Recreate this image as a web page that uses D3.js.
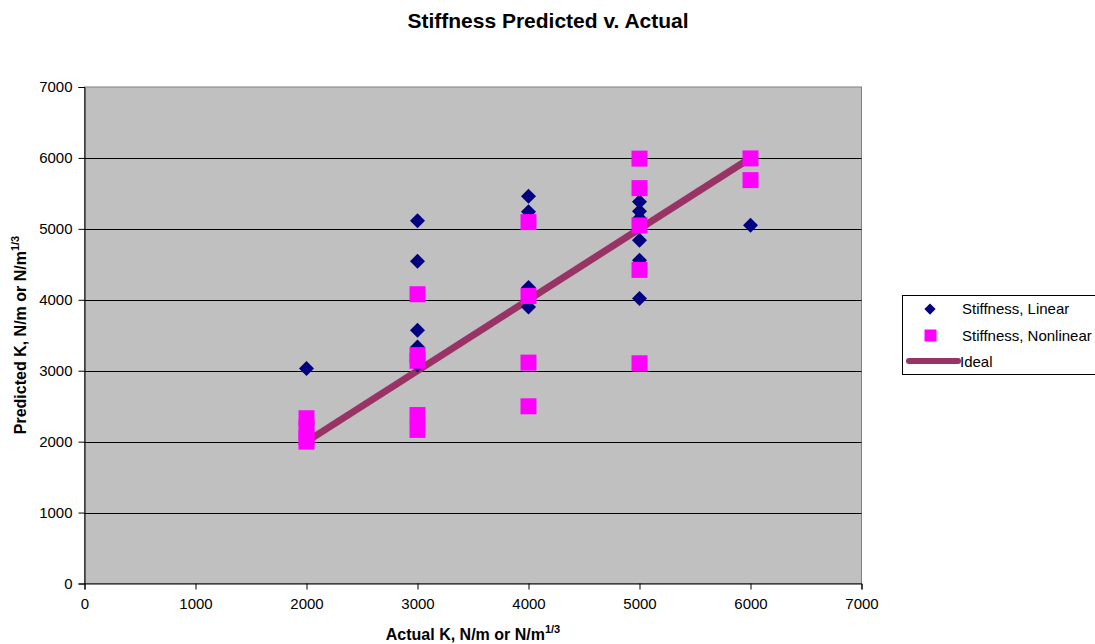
<!DOCTYPE html>
<html>
<head>
<meta charset="utf-8">
<script src="https://cdn.jsdelivr.net/npm/d3@7"></script>
<style>
  body { margin: 0; background: #fff; }
  text { font-family: "Liberation Sans", Arial, sans-serif; }
</style>
</head>
<body>
<div class="canvas"></div>
<script>
'use strict';
// values
var linearX = [2000, 3000, 3000, 3000, 3000, 3000, 4000, 4000, 4000, 4000, 5000, 5000, 5000, 5000, 5000, 5000, 6000];
var linearY = [3030, 5113, 4544, 3570, 3335, 3080, 5461, 5240, 4173, 3900, 5381, 5250, 5150, 4840, 4558, 4018, 5052];
var nonlinX = [2000, 2000, 2000, 2000, 3000, 3000, 3000, 3000, 3000, 4000, 4000, 4000, 4000, 5000, 5000, 5000, 5000, 5000, 6000, 6000];
var nonlinY = [2330, 2200, 2060, 2000, 4078, 3220, 3140, 2375, 2165, 5095, 4054, 3114, 2498, 5990, 5574, 5048, 4421, 3105, 5993, 5687];
var idealX = [2000, 6000];
var idealY = [2000, 6000];
var ticks = [0, 1000, 2000, 3000, 4000, 5000, 6000, 7000];
var seriesNames = ["Stiffness, Linear", "Stiffness, Nonlinear", "Ideal"];

var W = 1095, H = 644;
var L = 84.5, R = 861.5, T = 87, B = 583.5;

var svg = d3.select(".canvas").append("svg")
    .attr("width", W).attr("height", H);

var xScale = d3.scaleLinear().domain([0, 7000]).range([L, R]);
var yScale = d3.scaleLinear().domain([0, 7000]).range([B, T]);

// plot area
svg.append("rect")
    .attr("x", L).attr("y", T).attr("width", R - L).attr("height", B - T)
    .attr("fill", "#c0c0c0").attr("stroke", "#808080").attr("stroke-width", 1);

// gridlines
svg.append("g").selectAll("line").data(ticks.slice(1, -1)).enter().append("line")
    .attr("x1", L).attr("x2", R)
    .attr("y1", d => Math.round(yScale(d)) + 0.5).attr("y2", d => Math.round(yScale(d)) + 0.5)
    .attr("stroke", "#000").attr("stroke-width", 1);

// axes
var yAxis = d3.axisLeft(yScale).tickValues(ticks).tickFormat(d3.format("d")).tickSize(6).tickPadding(6);
var xAxis = d3.axisBottom(xScale).tickValues(ticks).tickFormat(d3.format("d")).tickSize(6).tickPadding(9);

var gy = svg.append("g").attr("transform", "translate(" + L + ",0)").call(yAxis);
var gx = svg.append("g").attr("transform", "translate(0," + B + ")").call(xAxis);
[gx, gy].forEach(g => {
    g.attr("font-size", null).attr("font-family", null);
    g.select(".domain").attr("stroke", "#000");
    g.selectAll(".tick line").attr("stroke", "#000");
    g.selectAll("text").style("font-size", "15px").attr("fill", "#000");
});

// ideal line
svg.append("line")
    .attr("x1", xScale(idealX[0])).attr("y1", yScale(idealY[0]))
    .attr("x2", xScale(idealX[1])).attr("y2", yScale(idealY[1]))
    .attr("stroke", "#993366").attr("stroke-width", 7);

// linear: diamonds
var diamond = "M0,-7.5L7.5,0L0,7.5L-7.5,0Z";
svg.append("g").selectAll("path").data(linearX).enter().append("path")
    .attr("d", diamond)
    .attr("transform", (d, i) => "translate(" + xScale(d) + "," + yScale(linearY[i]) + ")")
    .attr("fill", "#000080");

// nonlinear: squares
svg.append("g").selectAll("rect").data(nonlinX).enter().append("rect")
    .attr("x", d => xScale(d) - 8)
    .attr("y", (d, i) => yScale(nonlinY[i]) - 8)
    .attr("width", 16).attr("height", 16)
    .attr("fill", "#ff00ff");

// title
svg.append("text")
    .attr("x", 548).attr("y", 28)
    .attr("text-anchor", "middle")
    .style("font-size", "21px").attr("font-weight", "bold")
    .text("Stiffness Predicted v. Actual");

// x title
var xt = svg.append("text")
    .attr("x", 473).attr("y", 640)
    .attr("text-anchor", "middle")
    .style("font-size", "16px").attr("font-weight", "bold");
xt.append("tspan").text("Actual K, N/m or N/m");
xt.append("tspan").style("font-size", "11px").attr("dy", -7).text("1/3");

// y title
var yt = svg.append("text")
    .attr("transform", "translate(26,335) rotate(-90)")
    .attr("text-anchor", "middle")
    .style("font-size", "16px").attr("font-weight", "bold");
yt.append("tspan").text("Predicted K, N/m or N/m");
yt.append("tspan").style("font-size", "11px").attr("dy", -7).text("1/3");

// legend
var lg = svg.append("g");
lg.append("rect")
    .attr("x", 902.5).attr("y", 295.5).attr("width", 200).attr("height", 79)
    .attr("fill", "#fff").attr("stroke", "#000").attr("stroke-width", 1);
lg.append("path").attr("d", diamond)
    .attr("transform", "translate(930,309) scale(0.75)").attr("fill", "#000080");
lg.append("rect").attr("x", 924.5).attr("y", 329.5).attr("width", 12).attr("height", 12)
    .attr("fill", "#ff00ff");
lg.append("line").attr("x1", 909).attr("x2", 958).attr("y1", 361).attr("y2", 361)
    .attr("stroke", "#993366").attr("stroke-width", 6).attr("stroke-linecap", "round");
lg.selectAll("text").data(seriesNames).enter().append("text")
    .attr("x", (d, i) => i === 2 ? 960 : 962)
    .attr("y", (d, i) => 314 + i * 26.5)
    .style("font-size", "15px")
    .text(d => d);
</script>
</body>
</html>
